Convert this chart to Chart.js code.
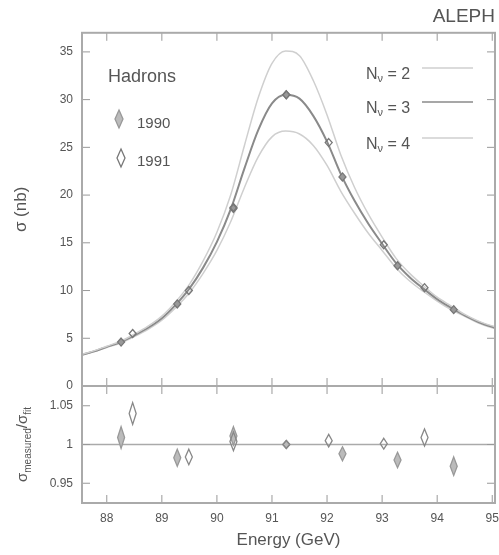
<!DOCTYPE html>
<html>
<head>
<meta charset="utf-8">
<title>ALEPH hadronic cross section</title>
<script src="https://cdn.jsdelivr.net/npm/chart.js@4.4.1/dist/chart.umd.min.js"></script>
<style>
  body { margin: 0; background: #fff; }
  #wrap { position: relative; width: 499px; height: 555px; overflow: hidden; }
  canvas { position: absolute; left: 0; }
  #grafTop { top: 0; }
  #grafRatio { top: 378px; }
</style>
</head>
<body>
<div id="wrap">
  <canvas id="grafTop" width="499" height="394"></canvas>
  <canvas id="grafRatio" width="499" height="177"></canvas>
</div>
<script>
// fitted line shapes (nb) for 2, 3 and 4 neutrino families
const energies = [87.5, 87.75, 88, 88.25, 88.5, 88.75, 89, 89.25, 89.5, 89.75, 90, 90.25, 90.5, 90.75, 91, 91.25,
                  91.5, 91.75, 92, 92.25, 92.5, 92.75, 93, 93.25, 93.5, 93.75, 94, 94.25, 94.5, 94.75, 95, 95.25];
const sigmaN2 = [3.25, 3.65, 4.17, 4.69, 5.42, 6.26, 7.32, 8.81, 10.65, 13.1, 16.1, 20.0, 25.2, 30.2, 33.8, 35.1,
                 34.6, 32.0, 28.4, 24.2, 20.8, 18.0, 15.6, 13.4, 11.8, 10.5, 9.3, 8.4, 7.5, 6.8, 6.3, 5.9];
const sigmaN3 = [3.2, 3.6, 4.1, 4.6, 5.3, 6.1, 7.1, 8.5, 10.2, 12.4, 15.1, 18.5, 22.8, 26.8, 29.6, 30.5,
                 30.1, 28.3, 25.6, 22.2, 19.4, 17.0, 14.9, 12.9, 11.4, 10.2, 9.1, 8.2, 7.4, 6.7, 6.2, 5.8];
const sigmaN4 = [3.16, 3.56, 4.03, 4.51, 5.18, 5.94, 6.89, 8.2, 9.77, 11.8, 14.2, 17.2, 20.8, 24.0, 26.1, 26.7,
                 26.4, 25.2, 23.1, 20.4, 18.1, 16.0, 14.2, 12.4, 11.0, 9.9, 8.9, 8.0, 7.3, 6.6, 6.1, 5.7];

// measured points
const energy1990 = [88.26, 89.28, 90.30, 91.26, 92.28, 93.28, 94.30];
const sigma1990 = [4.6, 8.6, 18.7, 30.5, 21.9, 12.6, 8.0];
const sigmaErr1990 = [0.15, 0.2, 0.3, 0.2, 0.3, 0.2, 0.15];
const ratio1990 = [1.009, 0.983, 1.011, 1.0, 0.988, 0.98, 0.972];
const ratioErr1990 = [0.014, 0.011, 0.012, 0.004, 0.009, 0.01, 0.012];

const energy1991 = [88.47, 89.49, 90.30, 91.26, 92.03, 93.03, 93.77];
const sigma1991 = [5.5, 10.0, 18.6, 30.5, 25.5, 14.8, 10.3];
const sigmaErr1991 = [0.15, 0.2, 0.3, 0.2, 0.3, 0.2, 0.15];
const ratio1991 = [1.04, 0.984, 1.004, 1.0, 1.005, 1.001, 1.009];
const ratioErr1991 = [0.014, 0.01, 0.012, 0.004, 0.008, 0.007, 0.011];

const ratioRef = 1;
const nuLabels = ["2", "3", "4"];

Chart.defaults.font.family = '"Liberation Sans", Arial, sans-serif';
Chart.defaults.color = "#555";

const FONT = '"Liberation Sans", Arial, sans-serif';
const nearMultiple = (v, step) => Math.abs(v / step - Math.round(v / step)) < 1e-6;
const toXY = (xs, ys) => xs.map((x, i) => ({ x: x, y: ys[i] }));

function drawDiamond(ctx, x, yTop, yBot, w, fill, stroke) {
    const yMid = (yTop + yBot) / 2;
    ctx.beginPath();
    ctx.moveTo(x, yTop);
    ctx.lineTo(x + w, yMid);
    ctx.lineTo(x, yBot);
    ctx.lineTo(x - w, yMid);
    ctx.closePath();
    if (fill) { ctx.fillStyle = fill; ctx.fill(); }
    if (stroke) { ctx.strokeStyle = stroke; ctx.lineWidth = 1.3; ctx.stroke(); }
}

// points with error drawn as a diamond spanning the error bar
const errorDiamonds = {
    id: "errorDiamonds",
    afterDatasetsDraw(chart) {
        const { ctx, scales: { x, y } } = chart;
        ctx.save();
        chart.data.datasets.forEach(ds => {
            if (!ds.errors) return;
            ds.data.forEach((p, i) => {
                const px = x.getPixelForValue(p.x);
                let top = y.getPixelForValue(p.y + ds.errors[i]);
                let bot = y.getPixelForValue(p.y - ds.errors[i]);
                if (bot - top < 8) {
                    const m = (top + bot) / 2;
                    top = m - 4; bot = m + 4;
                }
                drawDiamond(ctx, px, top, bot, 3.5, ds.markerFill, ds.markerStroke);
            });
        });
        ctx.restore();
    }
};

// frame and inward ticks on all four sides
function frameTicks(yMajor) {
    return {
        id: "frameTicks",
        afterDraw(chart) {
            const { ctx, chartArea: a, scales: { x, y } } = chart;
            ctx.save();
            ctx.strokeStyle = "#999";
            ctx.lineWidth = 1;
            ctx.beginPath();
            x.ticks.forEach(t => {
                if (t.value < x.min || t.value > x.max) return;
                const px = x.getPixelForValue(t.value);
                const len = nearMultiple(t.value, 1) ? 8 : 4;
                ctx.moveTo(px, a.bottom); ctx.lineTo(px, a.bottom - len);
                ctx.moveTo(px, a.top); ctx.lineTo(px, a.top + len);
            });
            y.ticks.forEach(t => {
                if (t.value < y.min || t.value > y.max) return;
                const py = y.getPixelForValue(t.value);
                const len = nearMultiple(t.value, yMajor) ? 8 : 4;
                ctx.moveTo(a.left, py); ctx.lineTo(a.left + len, py);
                ctx.moveTo(a.right, py); ctx.lineTo(a.right - len, py);
            });
            ctx.stroke();
            ctx.lineWidth = 2;
            ctx.strokeStyle = "#aaa";
            ctx.strokeRect(a.left, a.top, a.right - a.left, a.bottom - a.top);
            ctx.restore();
        }
    };
}

// legends of the upper panel
const topLegend = {
    id: "topLegend",
    afterDraw(chart) {
        const ctx = chart.ctx;
        ctx.save();
        ctx.fillStyle = "#555";
        ctx.textBaseline = "middle";
        ctx.font = "18px " + FONT;
        ctx.fillText("Hadrons", 108, 77);
        const d90 = chart.data.datasets[3], d91 = chart.data.datasets[4];
        drawDiamond(ctx, 119, 110, 128, 4, "#bbb", "#999");
        drawDiamond(ctx, 121, 149, 167, 4, null, d91.markerStroke);
        ctx.fillStyle = "#555";
        ctx.font = "15px " + FONT;
        ctx.fillText(d90.label, 137, 124);
        ctx.fillText(d91.label, 137, 162);

        const rows = [75, 109, 145];
        rows.forEach((yy, i) => {
            const ds = chart.data.datasets[i];
            let xx = 366;
            ctx.fillStyle = "#555";
            ctx.font = "16px " + FONT;
            ctx.fillText("N", xx, yy);
            xx += ctx.measureText("N").width;
            ctx.font = "11px " + FONT;
            ctx.fillText("ν", xx, yy + 4);
            xx += ctx.measureText("ν").width;
            ctx.font = "16px " + FONT;
            ctx.fillText(" = " + nuLabels[i], xx, yy);
            ctx.strokeStyle = ds.borderColor;
            ctx.lineWidth = 1.5;
            ctx.beginPath();
            ctx.moveTo(422, yy - 7);
            ctx.lineTo(473, yy - 7);
            ctx.stroke();
        });
        ctx.restore();
    }
};

// reference line and axis title of the ratio panel
const ratioExtras = {
    id: "ratioExtras",
    beforeDatasetsDraw(chart) {
        const { ctx, chartArea: a, scales: { y } } = chart;
        const py = y.getPixelForValue(ratioRef);
        ctx.save();
        ctx.strokeStyle = "#aaa";
        ctx.lineWidth = 1.5;
        ctx.beginPath();
        ctx.moveTo(a.left, py);
        ctx.lineTo(a.right, py);
        ctx.stroke();
        ctx.restore();
    },
    afterDraw(chart) {
        const { ctx, chartArea: a } = chart;
        const parts = [["σ", 15, 0], ["measured", 10, 4], ["/σ", 15, 0], ["fit", 10, 4]];
        ctx.save();
        ctx.translate(22, (a.top + a.bottom) / 2);
        ctx.rotate(-Math.PI / 2);
        ctx.fillStyle = "#555";
        ctx.textBaseline = "alphabetic";
        let total = 0;
        parts.forEach(p => { ctx.font = p[1] + "px " + FONT; total += ctx.measureText(p[0]).width; });
        let xx = -total / 2;
        parts.forEach(p => {
            ctx.font = p[1] + "px " + FONT;
            ctx.fillText(p[0], xx, 5 + p[2]);
            xx += ctx.measureText(p[0]).width;
        });
        ctx.restore();
    }
};

const xMin = 87.55, xMax = 95.05;

function curve(label, values, color, width) {
    return {
        label: label,
        data: toXY(energies, values),
        borderColor: color,
        borderWidth: width,
        pointRadius: 0,
        fill: false,
        cubicInterpolationMode: "monotone"
    };
}

function points(label, xs, ys, errs, fill, stroke) {
    return {
        label: label,
        data: toXY(xs, ys),
        errors: errs,
        markerFill: fill,
        markerStroke: stroke,
        showLine: false,
        pointRadius: 0
    };
}

// tick marks are drawn by frameTicks; the hidden grid only sets the label offset
const hiddenGrid = (len) => ({ display: false, drawTicks: true, tickLength: len });

const xTicks = (show) => ({
    display: show,
    stepSize: 0.2,
    includeBounds: false,
    autoSkip: false,
    maxRotation: 0,
    padding: 0,
    font: { size: 12 },
    callback: v => nearMultiple(v, 1) ? String(Math.round(v)) : null
});

new Chart(document.getElementById("grafTop").getContext("2d"), {
    type: "line",
    data: {
        datasets: [
            curve("N = 2", sigmaN2, "#cfcfcf", 1.5),
            curve("N = 3", sigmaN3, "#8a8a8a", 2),
            curve("N = 4", sigmaN4, "#cfcfcf", 1.5),
            points("1990", energy1990, sigma1990, sigmaErr1990, "#999", "#777"),
            points("1991", energy1991, sigma1991, sigmaErr1991, null, "#777")
        ]
    },
    options: {
        responsive: false,
        animation: false,
        layout: { padding: { left: 0, right: 4, top: 0, bottom: 8 } },
        plugins: {
            legend: { display: false },
            tooltip: { enabled: false },
            title: {
                display: true,
                text: "ALEPH",
                align: "end",
                color: "#555",
                font: { size: 19, weight: "normal" },
                padding: { top: 5, bottom: 5 }
            }
        },
        scales: {
            x: {
                type: "linear",
                min: xMin,
                max: xMax,
                ticks: xTicks(false),
                grid: { display: false, drawTicks: false },
                border: { display: false },
                afterFit: s => { s.height = 0; }
            },
            y: {
                min: 0,
                max: 37,
                ticks: {
                    stepSize: 1,
                    includeBounds: false,
                    autoSkip: false,
                    padding: 0,
                    font: { size: 12 },
                    callback: v => nearMultiple(v, 5) ? String(Math.round(v)) : null
                },
                grid: hiddenGrid(9),
                border: { display: false },
                title: { display: true, text: "σ (nb)", font: { size: 17 }, padding: { top: 11, bottom: 0 } },
                afterFit: s => { s.width = 82; }
            }
        }
    },
    plugins: [frameTicks(5), errorDiamonds, topLegend]
});

new Chart(document.getElementById("grafRatio").getContext("2d"), {
    type: "line",
    data: {
        datasets: [
            points("1990", energy1990, ratio1990, ratioErr1990, "#bbb", "#999"),
            points("1991", energy1991, ratio1991, ratioErr1991, null, "#888")
        ]
    },
    options: {
        responsive: false,
        animation: false,
        layout: { padding: { left: 0, right: 4, top: 8, bottom: 0 } },
        plugins: { legend: { display: false }, tooltip: { enabled: false } },
        scales: {
            x: {
                type: "linear",
                min: xMin,
                max: xMax,
                ticks: xTicks(true),
                grid: hiddenGrid(8),
                border: { display: false },
                title: { display: true, text: "Energy (GeV)", font: { size: 17 }, padding: { top: 0, bottom: 4 } },
                afterFit: s => { s.height = 52; }
            },
            y: {
                min: 0.9245,
                max: 1.0755,
                ticks: {
                    stepSize: 0.01,
                    includeBounds: false,
                    autoSkip: false,
                    padding: 0,
                    font: { size: 12 },
                    callback: v => nearMultiple(v, 0.05) ? String(Number(v.toFixed(2))) : null
                },
                grid: hiddenGrid(9),
                border: { display: false },
                afterFit: s => { s.width = 82; }
            }
        }
    },
    plugins: [frameTicks(0.05), errorDiamonds, ratioExtras]
});
</script>
</body>
</html>
